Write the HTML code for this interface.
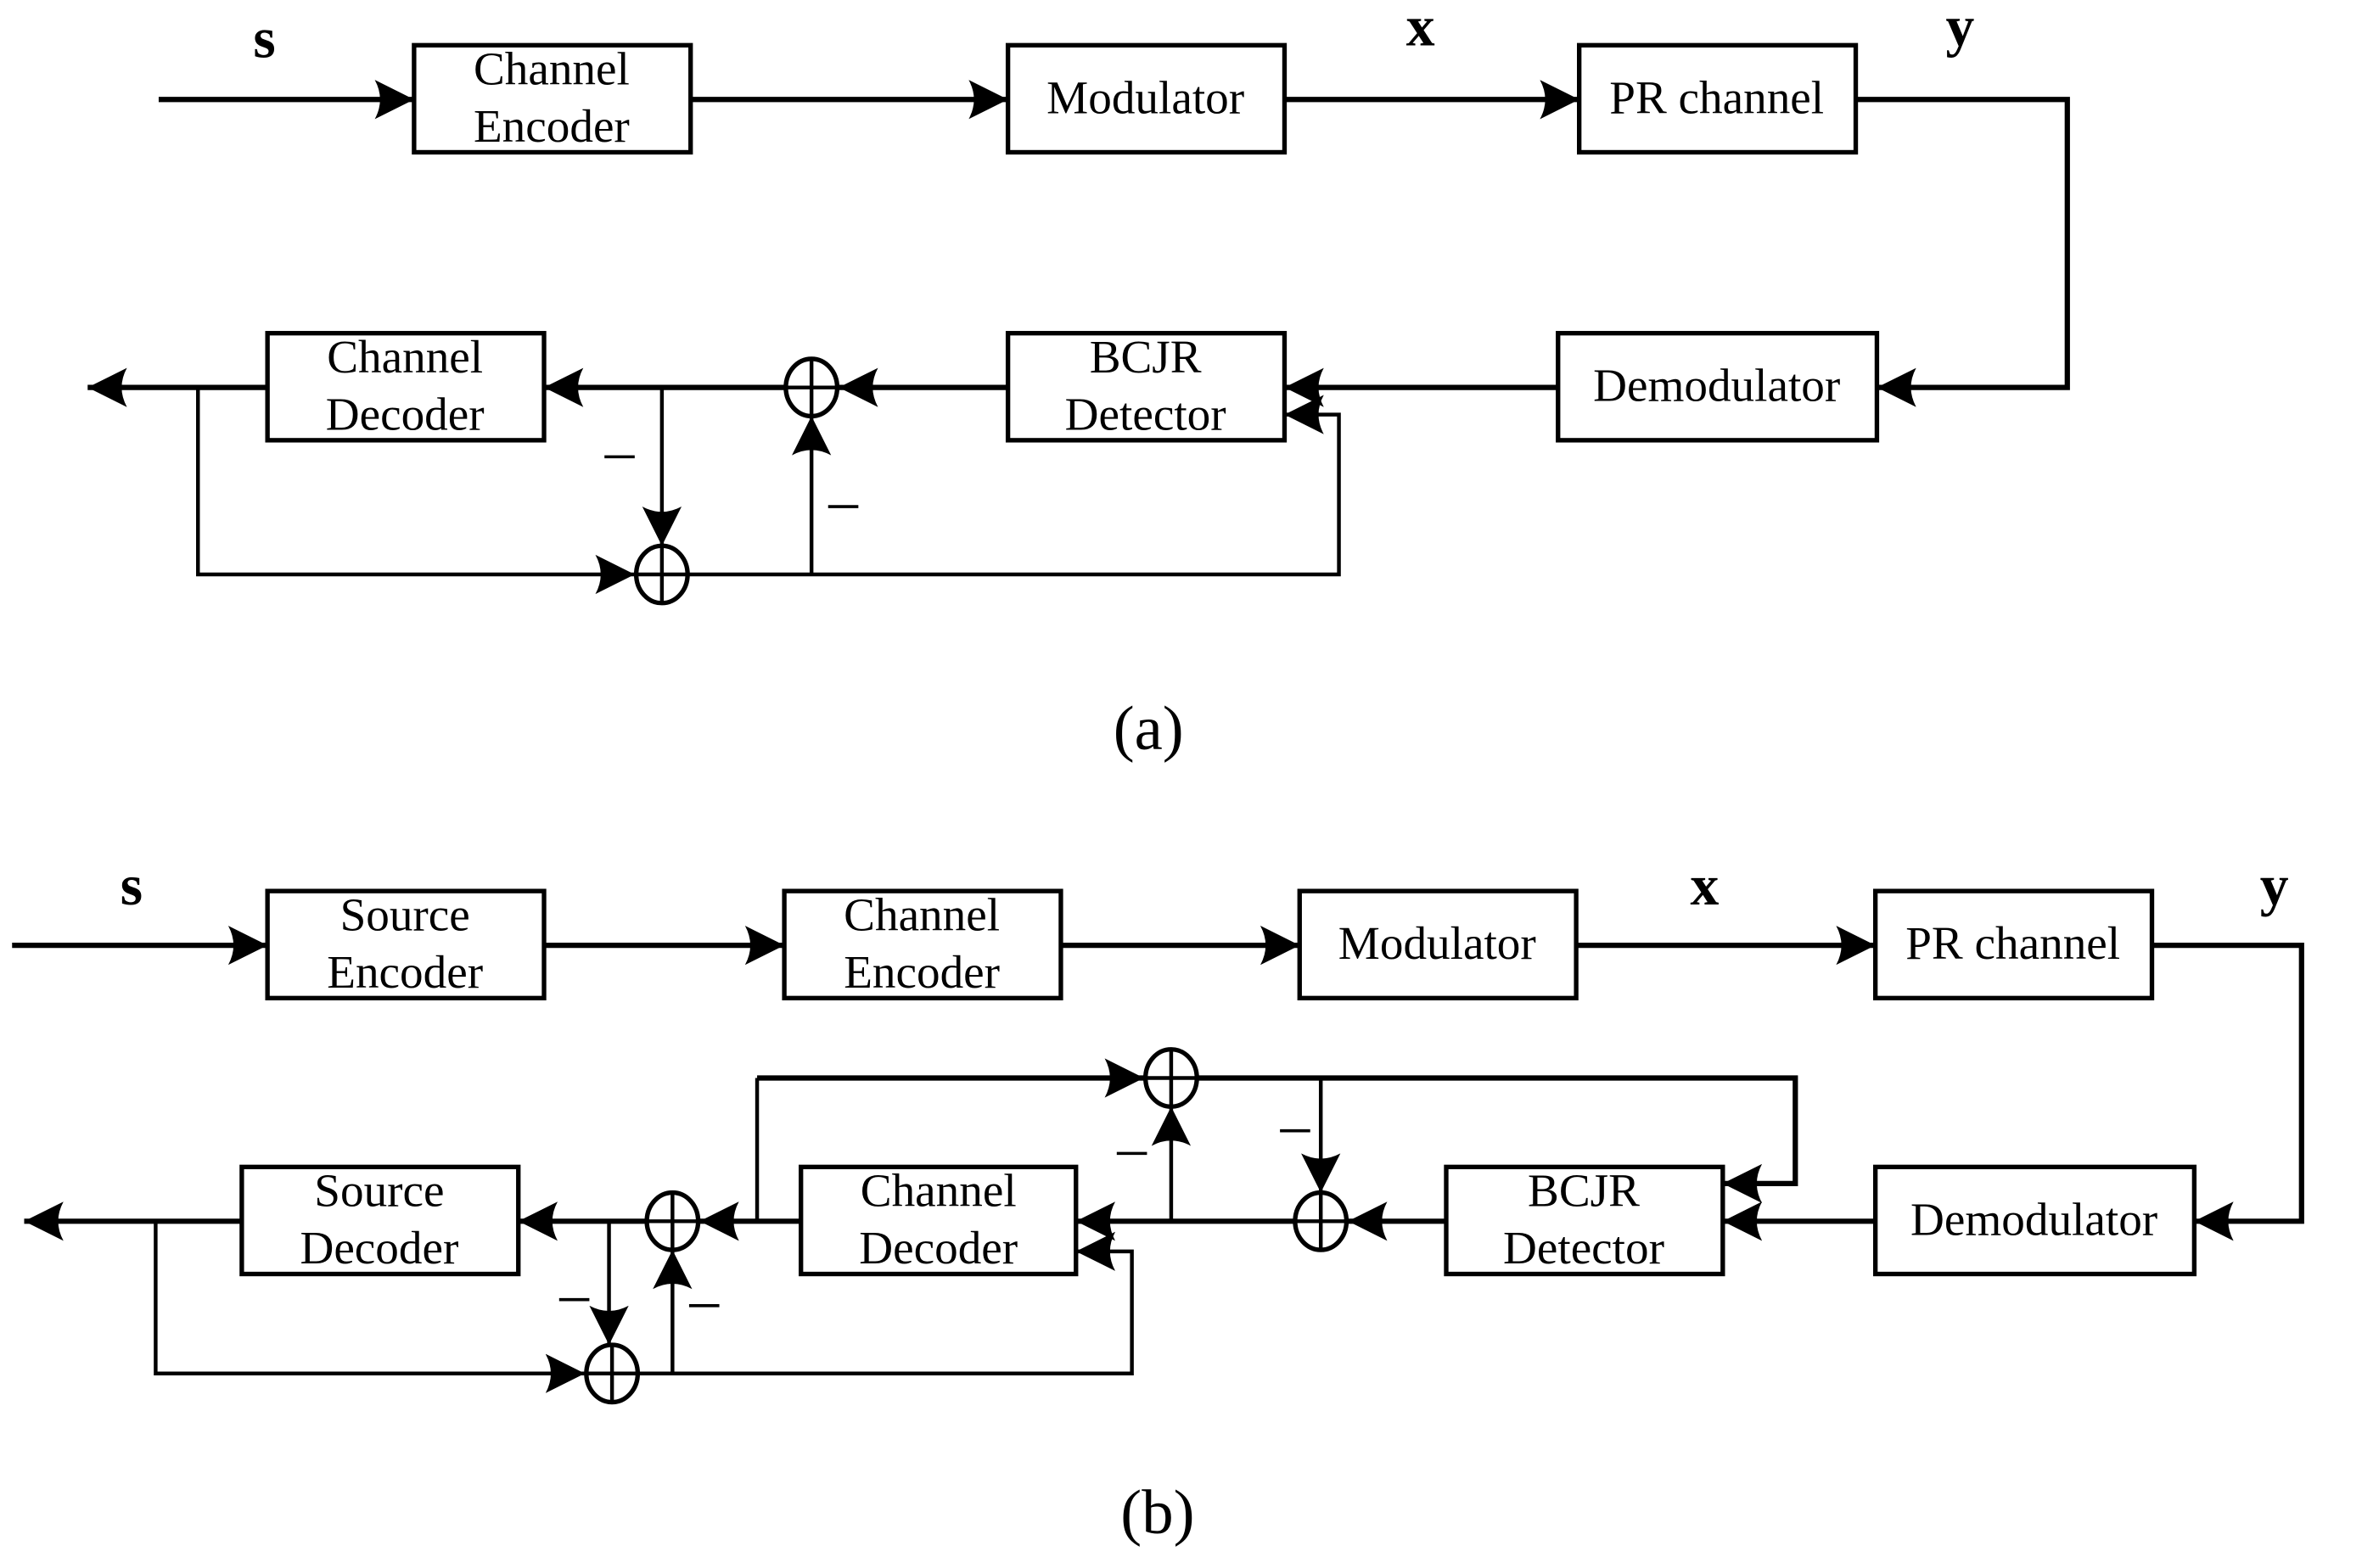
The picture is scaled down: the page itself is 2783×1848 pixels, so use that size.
<!DOCTYPE html>
<html><head><style>html,body{margin:0;padding:0;background:#fff}svg{display:block}</style></head>
<body>
<svg width="2783" height="1848" viewBox="0 0 1563 1040" preserveAspectRatio="none" xmlns="http://www.w3.org/2000/svg">
<defs>
<marker id="a" markerUnits="userSpaceOnUse" markerWidth="30" markerHeight="28" refX="26" refY="14" orient="auto">
<path d="M0,1 Q7,14 0,27 L26,14 Z" fill="#000"/>
</marker>
</defs>
<g font-family="Liberation Serif, serif" fill="#000">
<g fill="none" stroke="#000" stroke-width="3">
<rect x="274" y="30" width="183" height="71"/>
<rect x="667" y="30" width="183" height="71"/>
<rect x="1045" y="30" width="183" height="71"/>
<rect x="1031" y="221" width="211" height="71"/>
<rect x="667" y="221" width="183" height="71"/>
<rect x="177" y="221" width="183" height="71"/>
<rect x="177" y="591" width="183" height="71"/>
<rect x="519" y="591" width="183" height="71"/>
<rect x="860" y="591" width="183" height="71"/>
<rect x="1241" y="591" width="183" height="71"/>
<rect x="1241" y="774" width="211" height="71"/>
<rect x="957" y="774" width="183" height="71"/>
<rect x="530" y="774" width="182" height="71"/>
<rect x="160" y="774" width="183" height="71"/>
<ellipse cx="537" cy="257" rx="17" ry="19"/>
<ellipse cx="438" cy="381" rx="17" ry="19"/>
<ellipse cx="775" cy="715" rx="17" ry="19"/>
<ellipse cx="874" cy="810" rx="17" ry="19"/>
<ellipse cx="445" cy="810" rx="17" ry="19"/>
<ellipse cx="405" cy="911" rx="17" ry="19"/>
</g>
<g stroke="#000" stroke-width="2.5">
<line x1="537" y1="238" x2="537" y2="276"/><line x1="520" y1="257" x2="554" y2="257"/>
<line x1="438" y1="362" x2="438" y2="400"/><line x1="421" y1="381" x2="455" y2="381"/>
<line x1="775" y1="696" x2="775" y2="734"/><line x1="758" y1="715" x2="792" y2="715"/>
<line x1="874" y1="791" x2="874" y2="829"/><line x1="857" y1="810" x2="891" y2="810"/>
<line x1="445" y1="791" x2="445" y2="829"/><line x1="428" y1="810" x2="462" y2="810"/>
<line x1="405" y1="892" x2="405" y2="930"/><line x1="388" y1="911" x2="422" y2="911"/>
</g>
<g fill="none" stroke="#000" stroke-width="3.5">
<path d="M105,66 H274" marker-end="url(#a)"/>
<path d="M457,66 H667" marker-end="url(#a)"/>
<path d="M850,66 H1045" marker-end="url(#a)"/>
<path d="M1228,66 H1368 V257 H1242" marker-end="url(#a)"/>
<path d="M1031,257 H850" marker-end="url(#a)"/>
<path d="M667,257 H555" marker-end="url(#a)"/>
<path d="M520,257 H360" marker-end="url(#a)"/>
<path d="M177,257 H58" marker-end="url(#a)"/>
<path d="M8,627 H177" marker-end="url(#a)"/>
<path d="M360,627 H519" marker-end="url(#a)"/>
<path d="M702,627 H860" marker-end="url(#a)"/>
<path d="M1043,627 H1241" marker-end="url(#a)"/>
<path d="M1424,627 H1523 V810 H1452" marker-end="url(#a)"/>
<path d="M1241,810 H1140" marker-end="url(#a)"/>
<path d="M957,810 H892" marker-end="url(#a)"/>
<path d="M857,810 H712" marker-end="url(#a)"/>
<path d="M530,810 H463" marker-end="url(#a)"/>
<path d="M428,810 H343" marker-end="url(#a)"/>
<path d="M160,810 H16" marker-end="url(#a)"/>
<path d="M501,715 H757" marker-end="url(#a)"/>
<path d="M792,715 H1188 V785 H1140" marker-end="url(#a)"/>
</g>
<g fill="none" stroke="#000" stroke-width="2.5">
<path d="M131,257 V381 H420" marker-end="url(#a)"/>
<path d="M438,257 V362" marker-end="url(#a)"/>
<path d="M455,381 H886 V275 H850" marker-end="url(#a)"/>
<path d="M537,381 V276" marker-end="url(#a)"/>
<path d="M501,810 V715"/>
<path d="M775,810 V734" marker-end="url(#a)"/>
<path d="M874,715 V791" marker-end="url(#a)"/>
<path d="M103,810 V911 H387" marker-end="url(#a)"/>
<path d="M403,810 V892" marker-end="url(#a)"/>
<path d="M445,911 V829" marker-end="url(#a)"/>
<path d="M422,911 H749 V830 H712" marker-end="url(#a)"/>
</g>
<g stroke="#000" stroke-width="2">
<line x1="400" y1="303" x2="420" y2="303"/>
<line x1="548" y1="336" x2="568" y2="336"/>
<line x1="739" y1="765" x2="759" y2="765"/>
<line x1="847" y1="750" x2="867" y2="750"/>
<line x1="370" y1="862" x2="390" y2="862"/>
<line x1="456" y1="866" x2="476" y2="866"/>
</g>
<g font-size="31" text-anchor="middle">
<text x="365" y="56">Channel</text><text x="365" y="94">Encoder</text>
<text x="758" y="75">Modulator</text>
<text x="1136" y="75">PR channel</text>
<text x="1136" y="266">Demodulator</text>
<text x="758" y="247">BCJR</text><text x="758" y="285">Detector</text>
<text x="268" y="247">Channel</text><text x="268" y="285">Decoder</text>
<text x="268" y="617">Source</text><text x="268" y="655">Encoder</text>
<text x="610" y="617">Channel</text><text x="610" y="655">Encoder</text>
<text x="951" y="636">Modulator</text>
<text x="1332" y="636">PR channel</text>
<text x="1346" y="819">Demodulator</text>
<text x="1048" y="800">BCJR</text><text x="1048" y="838">Detector</text>
<text x="621" y="800">Channel</text><text x="621" y="838">Decoder</text>
<text x="251" y="800">Source</text><text x="251" y="838">Decoder</text>
</g>
<g font-size="38" font-weight="bold" text-anchor="middle">
<text x="175" y="38">s</text><text x="940" y="30">x</text><text x="1297" y="30">y</text>
<text x="87" y="600">s</text><text x="1128" y="600">x</text><text x="1505" y="600">y</text>
</g>
<g font-size="42" text-anchor="middle">
<text x="760" y="497">(a)</text>
<text x="766" y="1017">(b)</text>
</g>
</g>
</svg>
</body></html>
